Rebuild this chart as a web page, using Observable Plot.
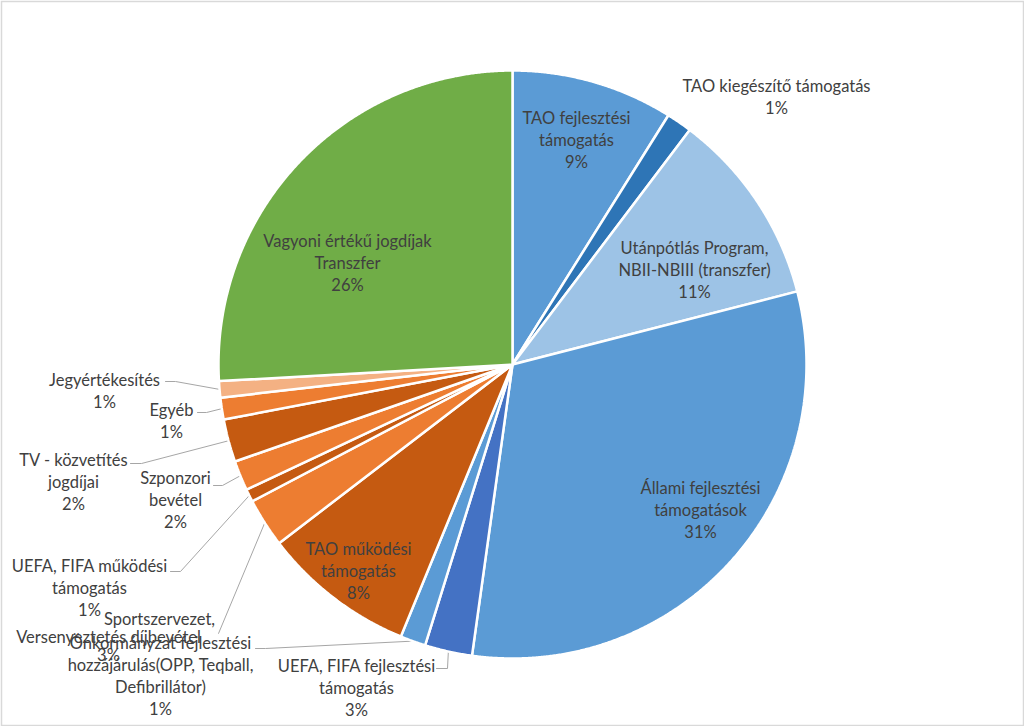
<!DOCTYPE html>
<html><head><meta charset="utf-8">
<script src="https://cdn.jsdelivr.net/npm/d3@7"></script>
<script src="https://cdn.jsdelivr.net/npm/@observablehq/plot@0.6"></script>
<style>body{margin:0;background:#fff;} #chart{width:1024px;height:726px;}</style>
</head><body><div id="chart"></div>
<script>
// ---- data ----
const categories = [
  "TAO fejlesztési\ntámogatás",
  "TAO kiegészítő támogatás",
  "Utánpótlás Program,\nNBII-NBIII (transzfer)",
  "Állami fejlesztési\ntámogatások",
  "UEFA, FIFA fejlesztési\ntámogatás",
  "Önkormányzat fejlesztési\nhozzájárulás(OPP, Teqball,\nDefibrillátor)",
  "TAO működési\ntámogatás",
  "Sportszervezet,\nVersenyeztetés díjbevétel",
  "UEFA, FIFA működési\ntámogatás",
  "Szponzori\nbevétel",
  "TV - közvetítés\njogdíjai",
  "Egyéb",
  "Jegyértékesítés",
  "Vagyoni értékű jogdíjak\nTranszfer"
];
const values = [8.9, 1.4, 10.7, 31.2, 2.6, 1.4, 8.4, 2.7, 0.7, 1.65, 2.35, 1.2, 0.9, 25.9];
const colors = ["#5B9BD5","#2E75B6","#9DC3E6","#5B9BD5","#4472C4","#5B9BD5","#C55A11",
                "#ED7D31","#C55A11","#ED7D31","#C55A11","#ED7D31","#F4B183","#70AD47"];

// ---- layout (pixel positions of labels, absolute page coords) ----
const W = 1024, H = 726, CX = 512, CY = 364, R = 294;
const labelLayout = [
  [576,140], [776,97], [694,270], [700,510], [356,688], [160,676], [358,571],
  [[159,619],[108,637],[108,655]],
  [89,588], [175,500], [73,482], [171,421], [104,391], [347,263]
];
const leaderAnchors = [
  null, null, null, null,
  [[436,668],[447,668]],
  [[255,648],[265,648]],
  null,
  [[218,633],[218,633]],
  [[170,571],[180,571]],
  [[213,485],[222,485]],
  [[130,463],[141,463]],
  [[197,412],[206,412]],
  [[165,381],[175,381]],
  null
];

// ---- derived geometry ----
const total = d3.sum(values);
let acc = 0;
const slices = values.map((v, i) => {
  const a0 = acc / total * 2 * Math.PI; acc += v;
  const a1 = acc / total * 2 * Math.PI;
  return {i, name: categories[i], value: v, color: colors[i], a0, a1, mid: (a0 + a1) / 2};
});
const polar = (a, r) => ({x: r * Math.sin(a), y: -r * Math.cos(a)});

const slicePts = [];
for (const s of slices) {
  slicePts.push({name: s.name, color: s.color, x: 0, y: 0});
  const n = Math.max(2, Math.ceil((s.a1 - s.a0) / (Math.PI / 720)));
  for (let k = 0; k <= n; k++) {
    const p = polar(s.a0 + (s.a1 - s.a0) * k / n, R);
    slicePts.push({name: s.name, color: s.color, ...p});
  }
}

const textRows = [];
slices.forEach((s, i) => {
  const lines = s.name.split("\n").concat([Math.round(s.value / total * 100) + "%"]);
  const lay = labelLayout[i];
  if (Array.isArray(lay[0])) {
    lines.forEach((t, k) => textRows.push({text: t, x: lay[k][0] - CX, y: lay[k][1] - CY}));
  } else {
    const lh = 22;
    lines.forEach((t, k) => textRows.push({text: t, x: lay[0] - CX, y: lay[1] - CY + (k - (lines.length - 1) / 2) * lh}));
  }
});

const leaderPts = [];
slices.forEach((s, i) => {
  const a = leaderAnchors[i];
  if (!a) return;
  const end = polar(s.mid, R);
  leaderPts.push({id: i, x: a[0][0] - CX, y: a[0][1] - CY});
  leaderPts.push({id: i, x: a[1][0] - CX, y: a[1][1] - CY});
  leaderPts.push({id: i, x: end.x, y: end.y});
});

const chart = Plot.plot({
  width: W, height: H,
  margin: 0,
  x: {domain: [-CX, W - CX], range: [0, W], axis: null},
  y: {domain: [-CY, H - CY], range: [0, H], axis: null},
  color: {type: "identity"},
  style: {background: "#fff"},
  marks: [
    Plot.line(leaderPts, {x: "x", y: "y", z: "id", stroke: "#A6A6A6", strokeWidth: 1}),
    Plot.line(slicePts, {x: "x", y: "y", z: "name", fill: "color", stroke: "white", strokeWidth: 2.5, strokeLinejoin: "miter", curve: "linear-closed"}),
    Plot.text(textRows, {x: "x", y: "y", text: "text", fill: "#404040", fontSize: 16.5, fontFamily: "Lato"}),
    Plot.frame({stroke: "#D9D9D9", strokeWidth: 1.5, inset: 1})
  ]
});
document.getElementById("chart").appendChild(chart);
</script>
</body></html>
